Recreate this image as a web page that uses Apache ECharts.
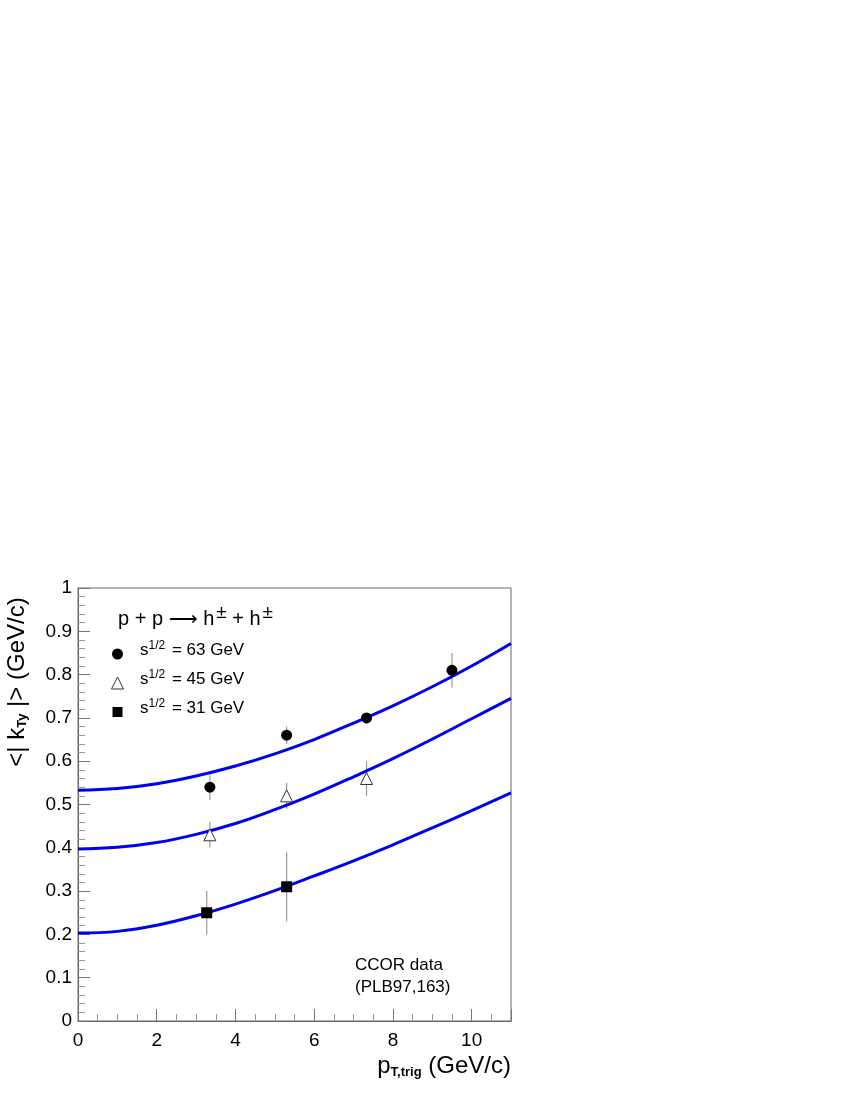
<!DOCTYPE html>
<html><head><meta charset="utf-8">
<script src="https://cdn.jsdelivr.net/npm/echarts@6/dist/echarts.min.js"></script>
<style>html,body{margin:0;padding:0;background:#fff}#c{width:850px;height:1100px}</style>
</head><body><div id="c"></div>
<script>
// Data: CCOR <|k_Ty|> vs pT,trig
const x63 = [3.35, 5.3, 7.33, 9.5];
const y63 = [0.54, 0.66, 0.70, 0.81];
const e63 = [0.03, 0.02, 0.01, 0.04];
const x45 = [3.35, 5.3, 7.33];
const y45 = [0.43, 0.52, 0.56];
const e45 = [0.03, 0.03, 0.04];
const x31 = [3.27, 5.3];
const y31 = [0.25, 0.31];
const e31 = [0.05, 0.08];
// Model curves
const curveX = [0, 1, 2, 3, 4, 5, 6, 7, 8, 9, 10, 11];
const curve63 = [0.533, 0.537, 0.548, 0.566, 0.589, 0.617, 0.650, 0.688, 0.728, 0.772, 0.820, 0.872];
const curve45 = [0.397, 0.401, 0.412, 0.431, 0.456, 0.488, 0.524, 0.564, 0.606, 0.651, 0.698, 0.745];
const curve31 = [0.203, 0.207, 0.221, 0.243, 0.270, 0.301, 0.335, 0.370, 0.407, 0.446, 0.486, 0.527];
const legendLabels = ['63', '45', '31'];

const FONT = 'Liberation Sans';
const pairs = (xs, ys) => xs.map((x, i) => [x, ys[i]]);
const errData = (xs, ys, es) => xs.map((x, i) => [x, ys[i] - es[i], ys[i] + es[i]]);

function errSeries(xs, ys, es) {
  return {
    type: 'custom', z: 2, silent: true,
    data: errData(xs, ys, es),
    renderItem: function (params, api) {
      const a = api.coord([api.value(0), api.value(1)]);
      const b = api.coord([api.value(0), api.value(2)]);
      return { type: 'line', shape: { x1: a[0], y1: a[1], x2: b[0], y2: b[1] },
        style: { stroke: '#999', lineWidth: 1.2 } };
    }
  };
}
function curveSeries(ys) {
  return { type: 'line', data: pairs(curveX, ys), smooth: 0.4, showSymbol: false, z: 3,
    lineStyle: { color: '#0000f0', width: 3 }, silent: true };
}

const chart = echarts.init(document.getElementById('c'));

chart.setOption({
  animation: false,
  grid: { left: 78, top: 588, width: 433, height: 433, show: true, borderColor: '#666', borderWidth: 1 },
  xAxis: {
    type: 'value', min: 0, max: 11, interval: 2,
    axisLine: { show: true, lineStyle: { color: '#666', width: 1 } },
    axisTick: { show: true, inside: true, length: 12, lineStyle: { color: '#777' } },
    minorTick: { show: true, splitNumber: 4, length: 7, lineStyle: { color: '#999' } },
    splitLine: { show: false },
    axisLabel: { fontFamily: FONT, fontSize: 19, color: '#000', margin: 10, showMaxLabel: false }
  },
  yAxis: {
    type: 'value', min: 0, max: 1, interval: 0.1,
    axisLine: { show: true, lineStyle: { color: '#666', width: 1 } },
    axisTick: { show: true, inside: true, length: 12, lineStyle: { color: '#777' } },
    minorTick: { show: true, splitNumber: 5, length: 7, lineStyle: { color: '#999' } },
    splitLine: { show: false },
    axisLabel: { fontFamily: FONT, fontSize: 19, color: '#000', margin: 6 }
  },
  series: [
    curveSeries(curve63), curveSeries(curve45), curveSeries(curve31),
    errSeries(x63, y63, e63), errSeries(x45, y45, e45), errSeries(x31, y31, e31),
    { type: 'scatter', data: pairs(x63, y63), symbol: 'circle', symbolSize: 11, z: 5,
      itemStyle: { color: '#000', opacity: 1 } },
    { type: 'scatter', data: pairs(x45, y45), symbol: 'triangle', symbolSize: 12, z: 5,
      itemStyle: { color: '#fff', borderColor: '#333', borderWidth: 1, opacity: 1 } },
    { type: 'scatter', data: pairs(x31, y31), symbol: 'rect', symbolSize: 11, z: 5,
      itemStyle: { color: '#000', opacity: 1 } }
  ],
  graphic: [
    { type: 'text', left: 118, top: 603, style: { text: 'p + p ⟶ h{s|±} + h{s|±}', fontFamily: FONT, fontSize: 20, fill: '#000',
        rich: { s: { fontFamily: FONT, fontSize: 19, verticalAlign: 'top', padding: [0, 0, 14, 2] } } } },
    { type: 'circle', shape: { cx: 117.5, cy: 654, r: 5.5 }, style: { fill: '#000' } },
    { type: 'polygon', shape: { points: [[117.5, 677], [123.5, 689], [111.5, 689]] }, style: { fill: '#fff', stroke: '#333', lineWidth: 1 } },
    { type: 'rect', shape: { x: 112.5, y: 707, width: 10, height: 10 }, style: { fill: '#000' } },
    ...legendLabels.map((v, i) => ({ type: 'text', left: 140, top: 640 + i * 29,
      style: { text: 's{s|1/2} = ' + v + ' GeV', fontFamily: FONT, fontSize: 17, fill: '#000',
        rich: { s: { fontFamily: FONT, fontSize: 12, verticalAlign: 'top', padding: [0, 2, 9, 0] } } } })),
    { type: 'text', left: 355, top: 954, style: { text: 'CCOR data\n(PLB97,163)', fontFamily: FONT, fontSize: 17, lineHeight: 22, fill: '#000' } },
    { type: 'text', x: 17, y: 682, rotation: Math.PI / 2,
      style: { text: '<| k{s|Ty} |> (GeV/c)', fontFamily: FONT, fontSize: 24, fill: '#000', align: 'center', verticalAlign: 'middle',
        rich: { s: { fontFamily: FONT, fontSize: 13, fontWeight: 'bold', verticalAlign: 'bottom', padding: [10, 0, 0, 0] } } } },
    { type: 'text', right: 339, top: 1054, style: { text: 'p{s|T,trig} (GeV/c)', fontFamily: FONT, fontSize: 24, fill: '#000',
        rich: { s: { fontFamily: FONT, fontSize: 13, fontWeight: 'bold', verticalAlign: 'bottom', padding: [12, 0, 0, 0] } } } }
  ]
});
</script></body></html>
